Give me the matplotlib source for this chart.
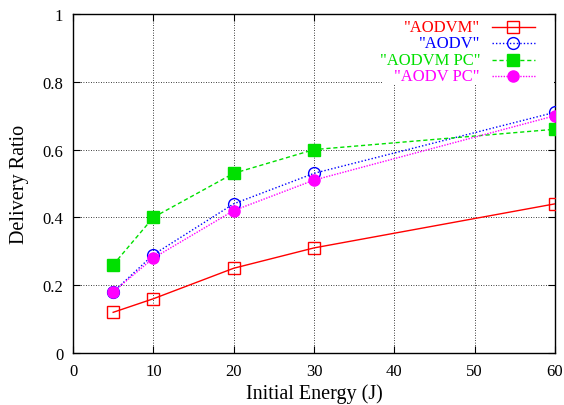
import matplotlib as mpl
import matplotlib.pyplot as plt
from matplotlib.lines import Line2D
from matplotlib.patches import Rectangle

mpl.rcParams["font.family"] = ["serif"]
mpl.rcParams["font.serif"] = ["Liberation Serif", "DejaVu Serif"]
mpl.rcParams["xtick.direction"] = "in"
mpl.rcParams["ytick.direction"] = "in"
mpl.rcParams["xtick.top"] = True
mpl.rcParams["ytick.right"] = True

# data
energy = [5, 10, 20, 30, 60]
aodvm = [0.12, 0.16, 0.25, 0.31, 0.44]
aodv = [0.18, 0.29, 0.44, 0.53, 0.71]
aodvm_pc = [0.26, 0.40, 0.53, 0.60, 0.66]
aodv_pc = [0.18, 0.28, 0.42, 0.51, 0.70]
labels = ['"AODVM"', '"AODV"', '"AODVM PC"', '"AODV PC"']

W, H = 564, 406
fig = plt.figure(figsize=(W / 100, H / 100), dpi=100)
L, R, T, B = 73, 555, 15, 354
ax = fig.add_axes([L / W, 1 - B / H, (R - L) / W, (B - T) / H])

styles = [
    dict(color="red", ls="-", marker="s", ms=8.5, mfc="none"),
    dict(color="blue", ls=(0, (1, 1.5)), marker="o", ms=8.5, mfc="none"),
    dict(color="#00e000", ls=(0, (3, 2)), marker="s", ms=8),
    dict(color="magenta", ls=(0, (1, 1)), marker="o", ms=8),
]
series = [aodvm, aodv, aodvm_pc, aodv_pc]
for ys, st in zip(series, styles):
    ax.plot(energy, ys, lw=1.0, mew=1.0, zorder=3, **st)

ax.set_xlim(0, 60)
ax.set_ylim(0, 1)
ax.set_xticks(range(0, 61, 10))
ax.set_yticks([0, 0.2, 0.4, 0.6, 0.8, 1])
ax.set_yticklabels(["0", "0.2", "0.4", "0.6", "0.8", "1"])
ax.tick_params(labelsize=12, length=5, width=0.8, pad=7)
ax.grid(True, color="black", ls=(0, (1, 2)), lw=0.6, zorder=1)
ax.set_axisbelow(True)
for s in ax.spines.values():
    s.set_linewidth(1.0)

ax.set_xlabel("Initial Energy (J)", fontsize=14.5, labelpad=3)
ax.set_ylabel("Delivery Ratio", fontsize=14.5, labelpad=10)


# gnuplot-style key: right-aligned coloured text, sample to the right
def px(x, y):
    return ((x - L) / (R - L), (B - y) / (B - T))


x0, y0 = px(383, 85)
ax.add_patch(Rectangle((x0, y0), 1 - x0 - 0.003, 0.997 - y0, transform=ax.transAxes,
                       facecolor="white", edgecolor="none", zorder=2))
rows = [28, 44, 61, 77]
for lab, st, ry in zip(labels, styles, rows):
    tx, ty = px(480, ry)
    ax.text(tx, ty, lab, transform=ax.transAxes, ha="right", va="center",
            color=st["color"], fontsize=12, zorder=4)
    lx0, _ = px(492, ry)
    lx1, _ = px(535, ry)
    ax.add_line(Line2D([lx0, lx1], [ty, ty], transform=ax.transAxes, lw=1.0,
                       color=st["color"], ls=st["ls"], zorder=4))
    mx, _ = px(513, ry)
    ax.add_line(Line2D([mx], [ty], transform=ax.transAxes, color=st["color"],
                       marker=st["marker"], ms=st["ms"], mew=1.0,
                       mfc=st.get("mfc", st["color"]), zorder=4))

fig.savefig("out.png", dpi=100)
